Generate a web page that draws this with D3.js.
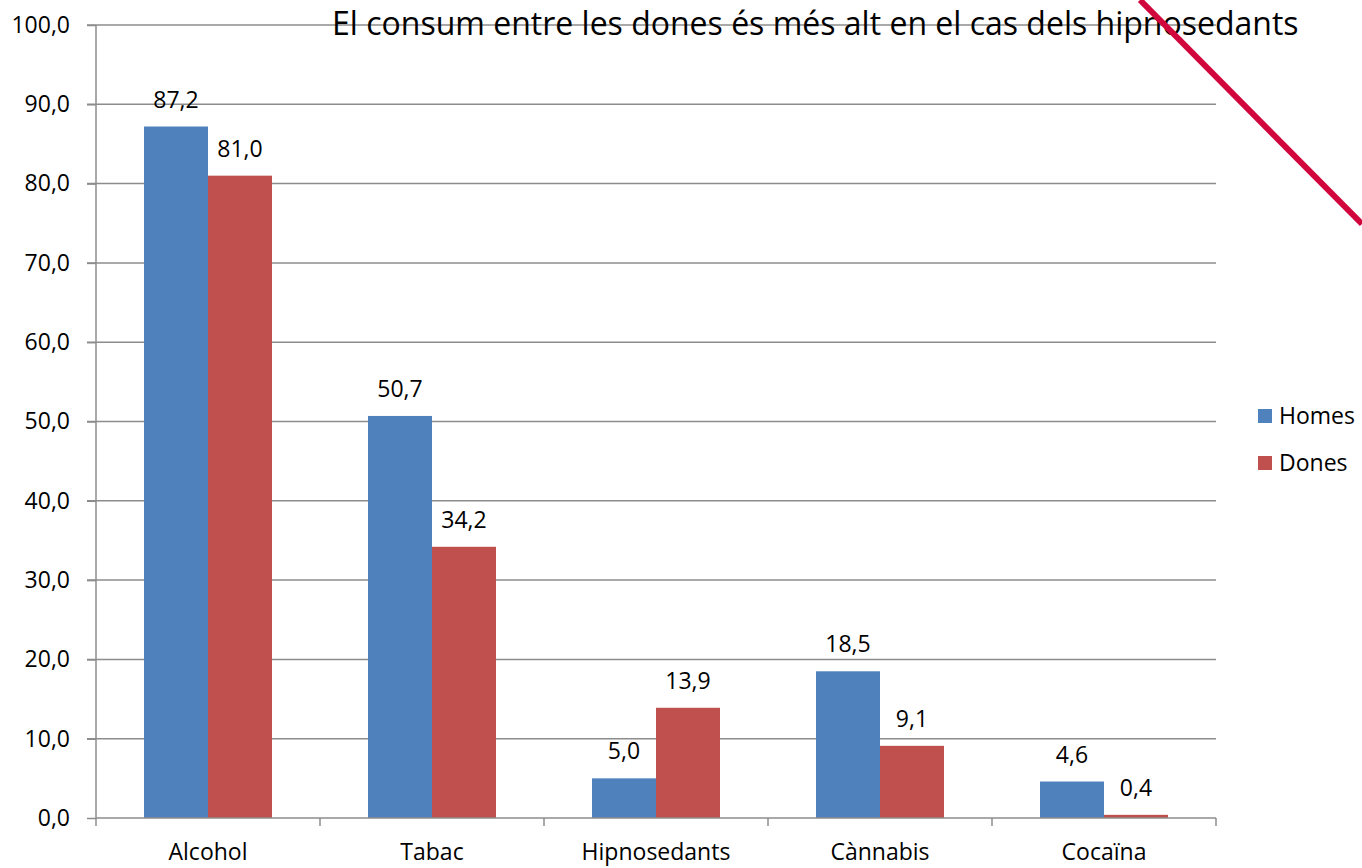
<!DOCTYPE html>
<html>
<head>
<meta charset="utf-8">
<script src="https://cdn.jsdelivr.net/npm/d3@7"></script>
<style>
  html, body { margin: 0; padding: 0; background: #fff; }
  svg { display: block; }
  text { font-family: "Open Sans", "Noto Sans", sans-serif; fill: #000; }
</style>
</head>
<body>
<svg id="chart" width="1362" height="868"></svg>
<script>
const categories = ["Alcohol", "Tabac", "Hipnosedants", "Cànnabis", "Cocaïna"];
const seriesNames = ["Homes", "Dones"];
const homes = [87.2, 50.7, 5.0, 18.5, 4.6];
const dones = [81.0, 34.2, 13.9, 9.1, 0.4];
const yTicks = [0, 10, 20, 30, 40, 50, 60, 70, 80, 90, 100];
const colors = ["#4f81bd", "#c0504d"];
const title = "El consum entre les dones és més alt en el cas dels hipnosedants";

const svg = d3.select("#chart");
const plot = { left: 96, right: 1216, top: 25, bottom: 818 };

const fmt = v => d3.format(".1f")(v).replace(".", ",");

const x = d3.scaleBand().domain(categories).range([plot.left, plot.right]).paddingInner(0.4286).paddingOuter(0.2143);
const xs = d3.scaleBand().domain(seriesNames).range([0, x.bandwidth()]);
const y = d3.scaleLinear().domain([0, 100]).range([plot.bottom, plot.top]);

// gridlines
svg.append("g").selectAll("line").data(yTicks.filter(d => d > 0)).join("line")
  .attr("x1", plot.left - 9).attr("x2", plot.right)
  .attr("y1", d => y(d)).attr("y2", d => y(d))
  .attr("stroke", "#8c8c8c").attr("stroke-width", 1.5);

// title
svg.append("text").attr("x", 332).attr("y", 35)
  .attr("font-size", 32).text(title);

// bars
const data = categories.map((c, i) => ({ c, vals: [homes[i], dones[i]] }));
const groups = svg.append("g").selectAll("g").data(data).join("g")
  .attr("transform", d => `translate(${x(d.c)},0)`);
groups.selectAll("rect").data(d => d.vals.map((v, j) => ({ v, s: seriesNames[j], j }))).join("rect")
  .attr("x", d => xs(d.s)).attr("width", xs.bandwidth())
  .attr("y", d => y(d.v)).attr("height", d => y(0) - y(d.v))
  .attr("fill", d => colors[d.j]);
groups.selectAll("text").data(d => d.vals.map((v, j) => ({ v, s: seriesNames[j], j }))).join("text")
  .attr("x", d => xs(d.s) + xs.bandwidth() / 2)
  .attr("y", d => y(d.v) - 19)
  .attr("text-anchor", "middle").attr("font-size", 23)
  .text(d => fmt(d.v));

// y axis
const yAxis = d3.axisLeft(y).tickValues(yTicks).tickSize(9).tickPadding(17).tickFormat(fmt);
const gy = svg.append("g").attr("transform", `translate(${plot.left},0)`).call(yAxis);
gy.select(".domain").attr("stroke", "#8c8c8c").attr("stroke-width", 1.5).attr("d", `M0,${plot.top}V${plot.bottom}`);
gy.selectAll(".tick line").attr("stroke", "#8c8c8c").attr("stroke-width", 1.5);
gy.selectAll(".tick text").attr("font-size", 23).attr("font-family", "Open Sans").attr("fill", "#000");

// x axis
const boundaries = d3.range(categories.length + 1).map(i => plot.left + i * x.step());
const gx = svg.append("g");
gx.append("line").attr("x1", plot.left).attr("x2", plot.right).attr("y1", y(0)).attr("y2", y(0))
  .attr("stroke", "#8c8c8c").attr("stroke-width", 1.5);
gx.selectAll("line.tk").data(boundaries).join("line").attr("class", "tk")
  .attr("x1", d => d).attr("x2", d => d).attr("y1", y(0)).attr("y2", y(0) + 8)
  .attr("stroke", "#8c8c8c").attr("stroke-width", 1.5);
gx.selectAll("text").data(categories).join("text")
  .attr("x", d => x(d) + x.bandwidth() / 2).attr("y", 860)
  .attr("text-anchor", "middle").attr("font-size", 23).text(d => d);

// legend
const lg = svg.append("g").selectAll("g").data(seriesNames).join("g")
  .attr("transform", (d, i) => `translate(1258,${409 + i * 47})`);
lg.append("rect").attr("width", 14).attr("height", 14).attr("fill", (d, i) => colors[i]);
lg.append("text").attr("x", 21).attr("y", 15).attr("font-size", 23).text(d => d);

// red diagonal stroke
svg.append("line").attr("x1", 1140).attr("y1", 0).attr("x2", 1362).attr("y2", 224)
  .attr("stroke", "#d0063c").attr("stroke-width", 6);
</script>
</body>
</html>
